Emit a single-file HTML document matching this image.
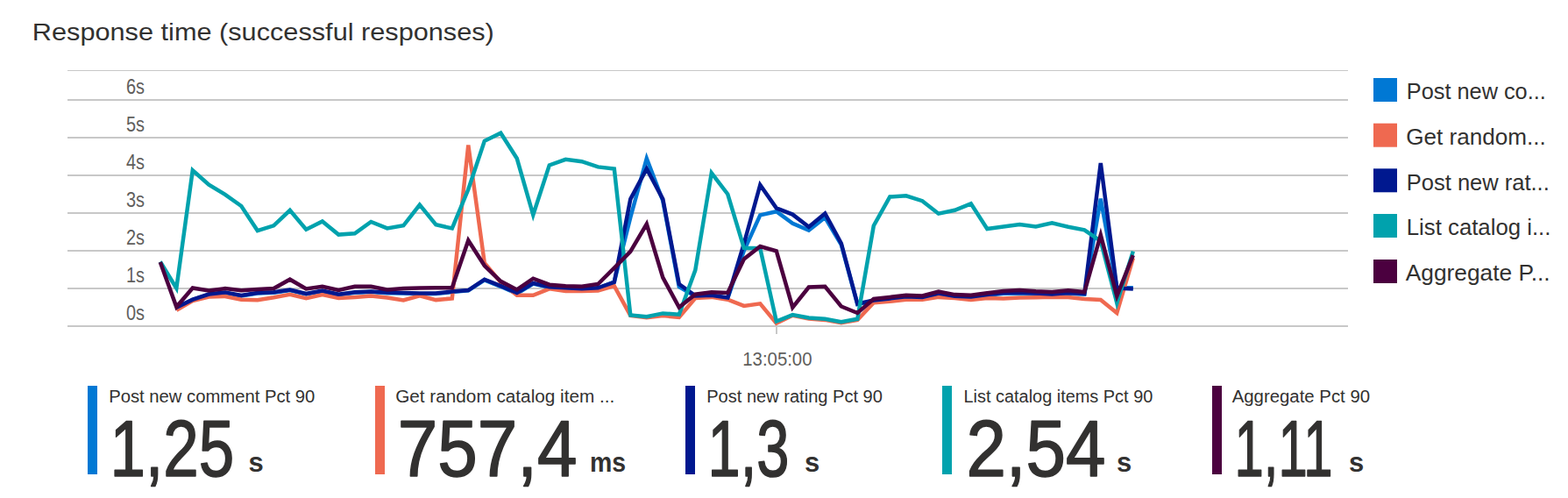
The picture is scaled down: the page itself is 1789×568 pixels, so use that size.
<!DOCTYPE html>
<html lang="en">
<head>
<meta charset="utf-8">
<title>Response time (successful responses)</title>
<style>
  html, body { margin: 0; padding: 0; background: #ffffff; }
  body { width: 1789px; height: 568px; overflow: hidden; font-family: "Liberation Sans", sans-serif; }
  svg { display: block; }
  text { font-family: "Liberation Sans", sans-serif; }
  .title { font-size: 28px; fill: #252423; }
  .ylab { font-size: 23px; fill: #5d5d5d; }
  .xlab { font-size: 21.5px; fill: #666666; }
  .leg { font-size: 25px; fill: #323130; }
  .clab { font-size: 20px; fill: #323130; }
  .big { font-size: 90px; fill: #323130; stroke: #323130; stroke-width: 1.6px; stroke-linejoin: round; }
  .unit { font-size: 31px; font-weight: bold; fill: #323130; }
  .grid { stroke: #c8c8c8; stroke-width: 2; shape-rendering: crispEdges; }
  .s { fill: none; stroke-width: 4.5; stroke-linejoin: miter; stroke-miterlimit: 4; stroke-linecap: butt; }
</style>
</head>
<body>
<svg width="1789" height="568" viewBox="0 0 1789 568">
<rect x="0" y="0" width="1789" height="568" fill="#ffffff"/>

<text x="36.85" y="46.15" font-size="28" fill="#323130" textLength="527" lengthAdjust="spacingAndGlyphs">Response time (successful responses)</text>
<g>
<rect x="77" y="80" width="1461" height="1" fill="#c8c8c8"/>
<rect x="77" y="113" width="1461" height="2" fill="#c8c8c8"/>
<rect x="77" y="156" width="1461" height="2" fill="#c8c8c8"/>
<rect x="77" y="199" width="1461" height="2" fill="#c8c8c8"/>
<rect x="77" y="242" width="1461" height="2" fill="#c8c8c8"/>
<rect x="77" y="285" width="1461" height="2" fill="#c8c8c8"/>
<rect x="77" y="328" width="1461" height="2" fill="#c8c8c8"/>
<rect x="77" y="371" width="1461" height="2" fill="#c8c8c8"/>
<rect x="885" y="372" width="2" height="9" fill="#c8c8c8"/>
</g>
<text x="143.9" y="107.3" font-size="23" fill="#605e5c" textLength="21" lengthAdjust="spacingAndGlyphs">6s</text>
<text x="143.9" y="150.3" font-size="23" fill="#605e5c" textLength="21" lengthAdjust="spacingAndGlyphs">5s</text>
<text x="143.9" y="193.3" font-size="23" fill="#605e5c" textLength="21" lengthAdjust="spacingAndGlyphs">4s</text>
<text x="143.9" y="236.3" font-size="23" fill="#605e5c" textLength="21" lengthAdjust="spacingAndGlyphs">3s</text>
<text x="143.9" y="279.3" font-size="23" fill="#605e5c" textLength="21" lengthAdjust="spacingAndGlyphs">2s</text>
<text x="143.9" y="322.3" font-size="23" fill="#605e5c" textLength="21" lengthAdjust="spacingAndGlyphs">1s</text>
<text x="143.9" y="365.3" font-size="23" fill="#605e5c" textLength="21" lengthAdjust="spacingAndGlyphs">0s</text>
<text x="847.3" y="417" font-size="21.5" fill="#605e5c" textLength="79.2" lengthAdjust="spacingAndGlyphs">13:05:00</text>
<path class="s" stroke="#0078d4" d="M201.3,351.0 L219.8,342.2 L238.3,336.0 L256.8,333.9 L275.3,337.5 L293.8,334.5 L312.3,333.7 L330.8,331.1 L349.3,335.5 L367.8,332.0 L386.3,336.2 L404.8,333.8 L423.3,333.1 L441.8,334.2 L460.3,334.6 L478.8,335.2 L497.3,335.1 L515.8,333.0 L534.3,331.4 L552.8,319.3 L571.3,326.8 L589.8,335.0 L608.3,323.6 L626.8,327.8 L645.3,328.9 L663.8,329.9 L682.3,328.9 L700.8,321.5 L719.3,248.0 L737.8,180.7 L756.3,229.0 L774.8,327.0 L793.3,338.0 L811.8,337.2 L830.3,340.0 L848.8,286.0 L867.3,245.4 L885.8,241.2 L904.3,254.7 L922.8,262.7 L941.3,248.1 L959.8,279.0 L978.3,347.0 L996.8,343.0 L1015.3,341.0 L1033.8,339.0 L1052.3,339.5 L1070.8,335.2 L1089.3,338.4 L1107.8,339.1 L1126.3,336.7 L1144.8,334.8 L1163.3,334.5 L1181.8,335.3 L1200.3,336.3 L1218.8,334.7 L1237.3,335.6 L1255.8,226.7 L1274.3,328.0 L1292.8,328.3"/>
<path class="s" stroke="#ef6950" d="M201.3,353.8 L219.8,343.1 L238.3,338.5 L256.8,338.0 L275.3,341.8 L293.8,342.3 L312.3,339.3 L330.8,335.8 L349.3,340.3 L367.8,336.1 L386.3,340.0 L404.8,338.9 L423.3,337.4 L441.8,339.5 L460.3,342.5 L478.8,337.4 L497.3,342.1 L515.8,340.4 L534.3,165.5 L552.8,300.0 L571.3,321.9 L589.8,336.8 L608.3,336.8 L626.8,329.3 L645.3,331.9 L663.8,331.9 L682.3,331.5 L700.8,326.2 L719.3,359.8 L737.8,362.3 L756.3,360.1 L774.8,361.8 L793.3,340.0 L811.8,338.9 L830.3,341.7 L848.8,348.9 L867.3,346.3 L885.8,368.6 L904.3,359.8 L922.8,363.6 L941.3,364.9 L959.8,368.2 L978.3,365.0 L996.8,345.3 L1015.3,343.8 L1033.8,341.7 L1052.3,341.7 L1070.8,338.9 L1089.3,340.0 L1107.8,342.1 L1126.3,340.0 L1144.8,340.4 L1163.3,339.5 L1181.8,339.3 L1200.3,338.8 L1218.8,339.1 L1237.3,340.9 L1255.8,342.0 L1274.3,357.0 L1292.8,294.3"/>
<path class="s" stroke="#00188f" d="M201.3,350.6 L219.8,341.7 L238.3,335.5 L256.8,333.4 L275.3,337.0 L293.8,334.0 L312.3,333.2 L330.8,330.6 L349.3,335.0 L367.8,331.5 L386.3,335.7 L404.8,333.2 L423.3,332.5 L441.8,333.6 L460.3,334.0 L478.8,334.6 L497.3,334.6 L515.8,332.5 L534.3,331.0 L552.8,318.7 L571.3,326.2 L589.8,334.0 L608.3,323.0 L626.8,327.2 L645.3,328.3 L663.8,329.3 L682.3,328.3 L700.8,321.9 L719.3,227.1 L737.8,192.5 L756.3,227.1 L774.8,324.0 L793.3,337.4 L811.8,336.8 L830.3,339.5 L848.8,278.0 L867.3,211.0 L885.8,237.4 L904.3,244.6 L922.8,258.8 L941.3,243.4 L959.8,277.5 L978.3,346.5 L996.8,342.5 L1015.3,340.4 L1033.8,338.3 L1052.3,338.9 L1070.8,334.5 L1089.3,337.8 L1107.8,338.5 L1126.3,336.0 L1144.8,334.0 L1163.3,333.5 L1181.8,334.5 L1200.3,335.6 L1218.8,334.0 L1237.3,335.0 L1255.8,186.0 L1274.3,328.7 L1292.8,329.5"/>
<path class="s" stroke="#00a2ad" d="M182.8,298.5 L201.3,328.7 L219.8,194.2 L238.3,210.7 L256.8,221.8 L275.3,235.0 L293.8,263.1 L312.3,257.3 L330.8,239.8 L349.3,261.8 L367.8,252.5 L386.3,267.6 L404.8,266.3 L423.3,253.0 L441.8,260.4 L460.3,257.3 L478.8,233.5 L497.3,256.2 L515.8,260.5 L534.3,216.0 L552.8,160.8 L571.3,151.7 L589.8,180.8 L608.3,245.0 L626.8,188.4 L645.3,181.8 L663.8,184.2 L682.3,190.4 L700.8,192.6 L719.3,359.5 L737.8,361.2 L756.3,357.4 L774.8,358.7 L793.3,308.1 L811.8,197.3 L830.3,221.5 L848.8,282.8 L867.3,283.3 L885.8,366.5 L904.3,359.1 L922.8,362.5 L941.3,363.7 L959.8,367.1 L978.3,363.7 L996.8,257.5 L1015.3,224.5 L1033.8,223.3 L1052.3,229.2 L1070.8,243.7 L1089.3,239.8 L1107.8,232.4 L1126.3,261.0 L1144.8,258.5 L1163.3,256.0 L1181.8,258.4 L1200.3,254.4 L1218.8,258.8 L1237.3,262.3 L1255.8,275.0 L1274.3,345.5 L1292.8,286.6"/>
<path class="s" stroke="#4b003f" d="M182.8,299.0 L201.3,350.0 L219.8,328.5 L238.3,331.5 L256.8,329.1 L275.3,331.2 L293.8,330.1 L312.3,329.0 L330.8,318.7 L349.3,329.5 L367.8,326.8 L386.3,331.0 L404.8,326.8 L423.3,326.8 L441.8,330.4 L460.3,328.9 L478.8,328.5 L497.3,328.3 L515.8,328.3 L534.3,274.2 L552.8,303.0 L571.3,320.8 L589.8,330.4 L608.3,317.7 L626.8,324.7 L645.3,326.2 L663.8,326.8 L682.3,324.0 L700.8,305.6 L719.3,286.9 L737.8,255.5 L756.3,316.6 L774.8,350.6 L793.3,335.7 L811.8,333.2 L830.3,334.0 L848.8,295.5 L867.3,281.0 L885.8,286.3 L904.3,350.6 L922.8,327.5 L941.3,326.8 L959.8,349.5 L978.3,357.0 L996.8,341.0 L1015.3,338.9 L1033.8,336.8 L1052.3,337.4 L1070.8,332.5 L1089.3,336.1 L1107.8,336.8 L1126.3,334.2 L1144.8,331.9 L1163.3,331.0 L1181.8,332.3 L1200.3,333.0 L1218.8,331.3 L1237.3,333.1 L1255.8,268.0 L1274.3,337.6 L1292.8,291.2"/>
<rect x="1567" y="89.0" width="27" height="27" fill="#0078d4"/>
<text class="leg" x="1604.8" y="112.7" textLength="159" lengthAdjust="spacingAndGlyphs">Post new co...</text>
<rect x="1567" y="140.7" width="27" height="27" fill="#ef6950"/>
<text class="leg" x="1604.2" y="164.8" textLength="159.6" lengthAdjust="spacingAndGlyphs">Get random...</text>
<rect x="1567" y="192.3" width="27" height="27" fill="#00188f"/>
<text class="leg" x="1604.8" y="216.7" textLength="163" lengthAdjust="spacingAndGlyphs">Post new rat...</text>
<rect x="1567" y="244.0" width="27" height="27" fill="#00a2ad"/>
<text class="leg" x="1604.8" y="267.8" textLength="164.6" lengthAdjust="spacingAndGlyphs">List catalog i...</text>
<rect x="1567" y="296.0" width="27" height="27" fill="#4b003f"/>
<text class="leg" x="1603.7" y="319.5" textLength="164.9" lengthAdjust="spacingAndGlyphs">Aggregate P...</text>
<rect x="100" y="440" width="11" height="101" fill="#0078d4"/>
<text class="clab" x="124.2" y="459.27" textLength="235.2" lengthAdjust="spacingAndGlyphs">Post new comment Pct 90</text>
<text class="big" x="125.6" y="543.2" textLength="141.6" lengthAdjust="spacingAndGlyphs">1,25</text>
<text class="unit" x="283.4" y="537.5">s</text>
<rect x="428" y="440" width="11" height="101" fill="#ef6950"/>
<text class="clab" x="451.2" y="459.27" textLength="250.1" lengthAdjust="spacingAndGlyphs">Get random catalog item ...</text>
<text class="big" x="453.7" y="543.2" textLength="204.7" lengthAdjust="spacingAndGlyphs">757,4</text>
<text class="unit" x="672.9" y="537.5" textLength="41.2" lengthAdjust="spacingAndGlyphs">ms</text>
<rect x="782" y="440" width="11" height="101" fill="#00188f"/>
<text class="clab" x="806.2" y="459.27" textLength="200.7" lengthAdjust="spacingAndGlyphs">Post new rating Pct 90</text>
<text class="big" x="807.6" y="543.2" textLength="92.9" lengthAdjust="spacingAndGlyphs">1,3</text>
<text class="unit" x="918.1" y="537.5">s</text>
<rect x="1075" y="440" width="11" height="101" fill="#00a2ad"/>
<text class="clab" x="1099.5" y="459.27" textLength="215.8" lengthAdjust="spacingAndGlyphs">List catalog items Pct 90</text>
<text class="big" x="1102.4" y="543.2" textLength="159.1" lengthAdjust="spacingAndGlyphs">2,54</text>
<text class="unit" x="1273.9" y="537.5">s</text>
<rect x="1383" y="440" width="11" height="101" fill="#4b003f"/>
<text class="clab" x="1405.7" y="459.27" textLength="157.4" lengthAdjust="spacingAndGlyphs">Aggregate Pct 90</text>
<text class="big" x="1408.5" y="543.2" textLength="112" lengthAdjust="spacingAndGlyphs">1,11</text>
<text class="unit" x="1538.9" y="537.5">s</text>
</svg>
</body>
</html>
